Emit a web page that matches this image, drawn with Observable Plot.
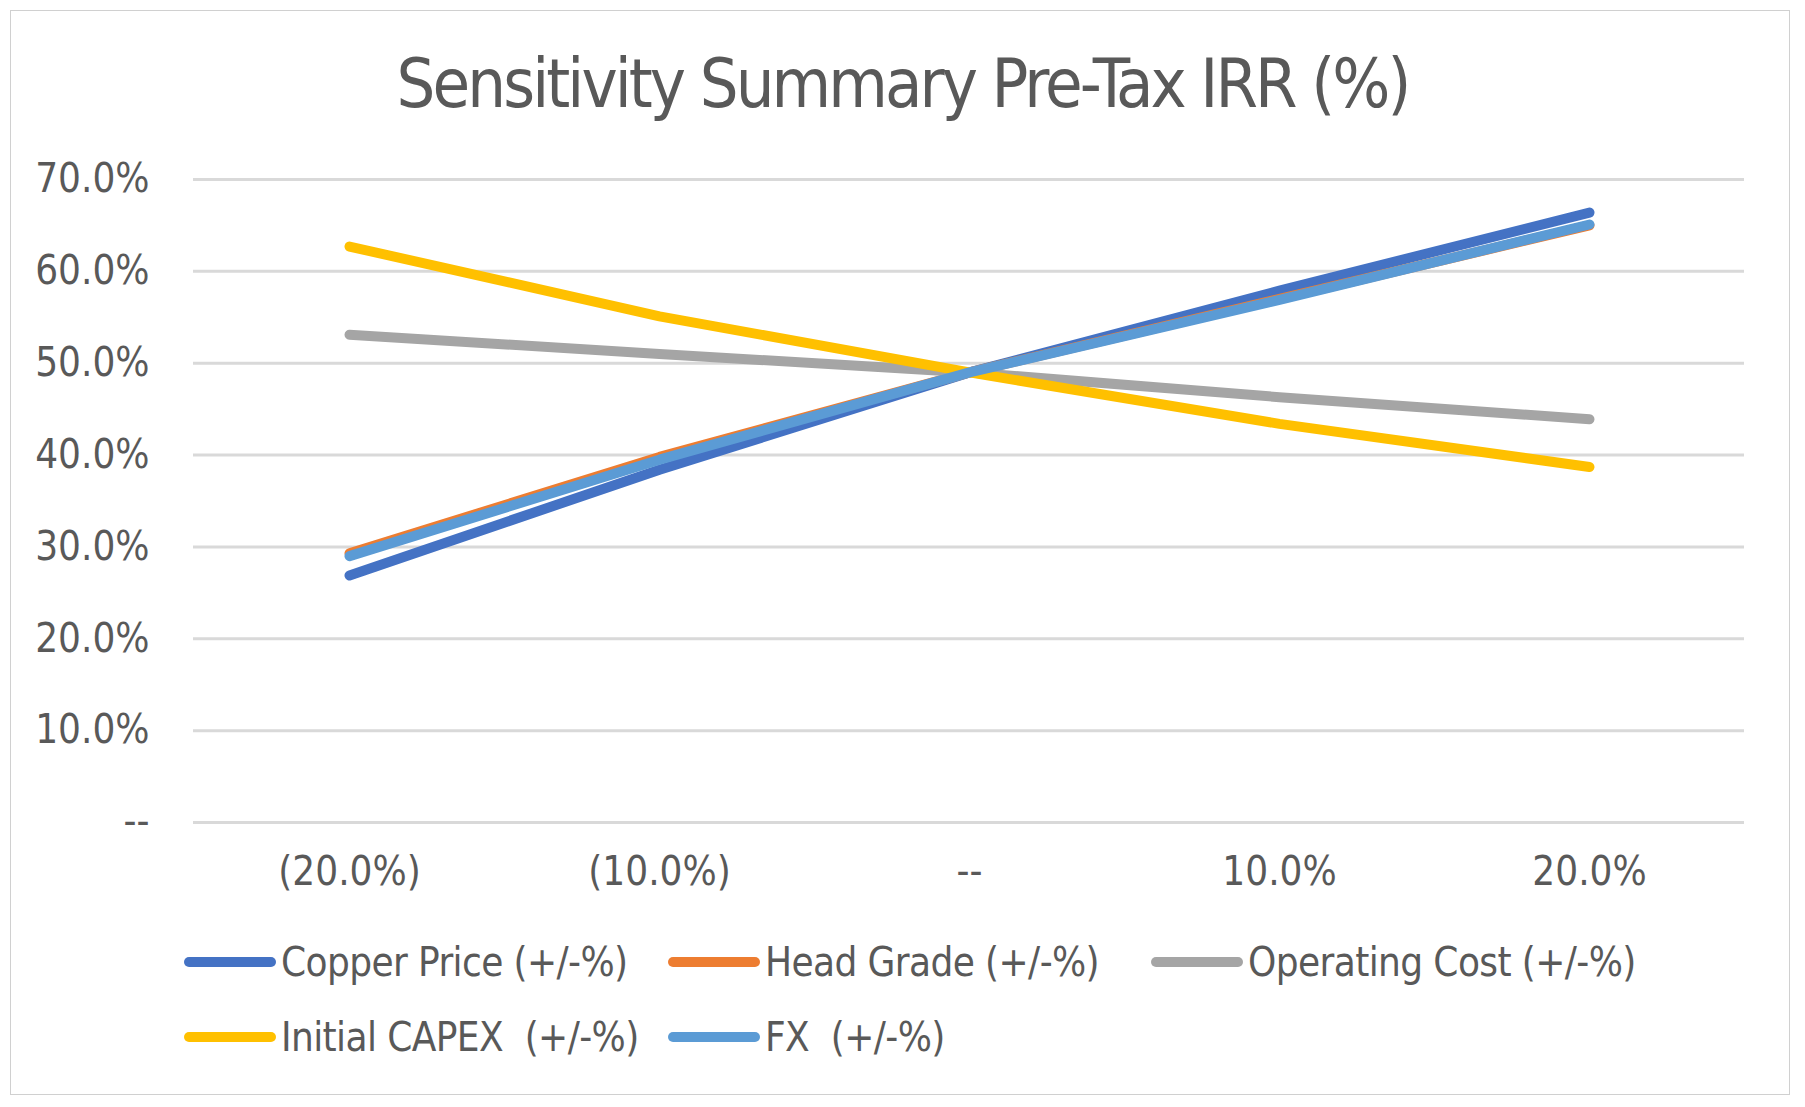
<!DOCTYPE html>
<html>
<head>
<meta charset="utf-8">
<script src="https://cdn.jsdelivr.net/npm/d3@7"></script>
<script src="https://cdn.jsdelivr.net/npm/@observablehq/plot@0.6"></script>
<style>
  html, body { margin: 0; padding: 0; background: #fff; }
  #wrap { position: relative; width: 1805px; height: 1107px; overflow: hidden; font-family: "DejaVu Sans Condensed", "DejaVu Sans", sans-serif; color: #595959; }
  #frame { position: absolute; left: 10px; top: 10px; width: 1780px; height: 1085px; border: 1.5px solid #d0d0d0; box-sizing: border-box; }
  #title { position: absolute; left: 0; width: 1805px; top: 50px; text-align: center; font-size: 68px; letter-spacing: -2.9px; line-height: 1; white-space: pre; }
  #chart { position: absolute; left: 0; top: 0; }
  .leg { position: absolute; display: flex; align-items: center; font-size: 40px; letter-spacing: -0.6px; white-space: pre; }
  .sw { width: 92px; height: 10px; border-radius: 5px; margin-right: 5px; }
</style>
</head>
<body>
<div id="wrap">
  <div id="frame"></div>
  <div id="title"></div>
  <div id="chart"></div>
  <div id="legend"></div>
</div>
<script>
const titleText = "Sensitivity Summary Pre-Tax IRR (%)";
const categories = ["(20.0%)", "(10.0%)", "--", "10.0%", "20.0%"];
const seriesNames = ["Copper Price (+/-%)", "Head Grade (+/-%)", "Operating Cost (+/-%)", "Initial CAPEX  (+/-%)", "FX  (+/-%)"];
const seriesColors = ["#4472C4", "#ED7D31", "#A5A5A5", "#FFC000", "#5B9BD5"];
const copperPrice   = [26.9, 38.4, 49.0, 57.9, 66.4];
const headGrade     = [29.3, 39.8, 49.0, 57.0, 65.0];
const operatingCost = [53.1, 51.0, 49.0, 46.3, 43.9];
const initialCapex  = [62.7, 55.1, 49.0, 43.4, 38.7];
const fx            = [29.0, 39.5, 49.0, 56.9, 65.1];
const yTicks = [0, 10, 20, 30, 40, 50, 60, 70];

const seriesValues = [copperPrice, headGrade, operatingCost, initialCapex, fx];
const data = [];
seriesNames.forEach((s, i) => categories.forEach((c, j) => data.push({series: s, cat: c, value: seriesValues[i][j]})));

document.getElementById("title").textContent = titleText;

const fmt = v => v === 0 ? "--" : v.toFixed(1) + "%";

const chart = Plot.plot({
  width: 1805,
  height: 900,
  marginTop: 179,
  marginBottom: 78,
  marginLeft: 193,
  marginRight: 61,
  style: {fontFamily: "'DejaVu Sans Condensed', 'DejaVu Sans', sans-serif", color: "#595959", background: "transparent", overflow: "visible"},
  x: {type: "point", domain: categories, padding: 0.5},
  y: {domain: [0, 70]},
  color: {domain: seriesNames, range: seriesColors},
  marks: [
    Plot.ruleY(yTicks, {stroke: "#d9d9d9", strokeWidth: 3}),
    Plot.axisY(yTicks, {tickSize: 0, tickPadding: 44, tickFormat: fmt, fontSize: 40, fill: "#595959", label: null}),
    Plot.axisX({tickSize: 0, tickPadding: 34, fontSize: 40, fill: "#595959", label: null, style: {letterSpacing: "-0.6px"}}),
    Plot.line(data, {x: "cat", y: "value", z: "series", stroke: "series", strokeWidth: 10, strokeLinecap: "round", strokeLinejoin: "round"})
  ]
});
document.getElementById("chart").appendChild(chart);

const legend = document.getElementById("legend");
const legPos = [[184, 961], [668, 961], [1151, 961], [184, 1036], [668, 1036]];
seriesNames.forEach((s, i) => {
  const item = document.createElement("div");
  item.className = "leg";
  item.style.left = legPos[i][0] + "px";
  item.style.top = (legPos[i][1] - 24) + "px";
  item.style.height = "50px";
  const sw = document.createElement("div");
  sw.className = "sw";
  sw.style.background = seriesColors[i];
  const t = document.createElement("span");
  t.textContent = s;
  item.appendChild(sw);
  item.appendChild(t);
  legend.appendChild(item);
});
</script>
</body>
</html>
